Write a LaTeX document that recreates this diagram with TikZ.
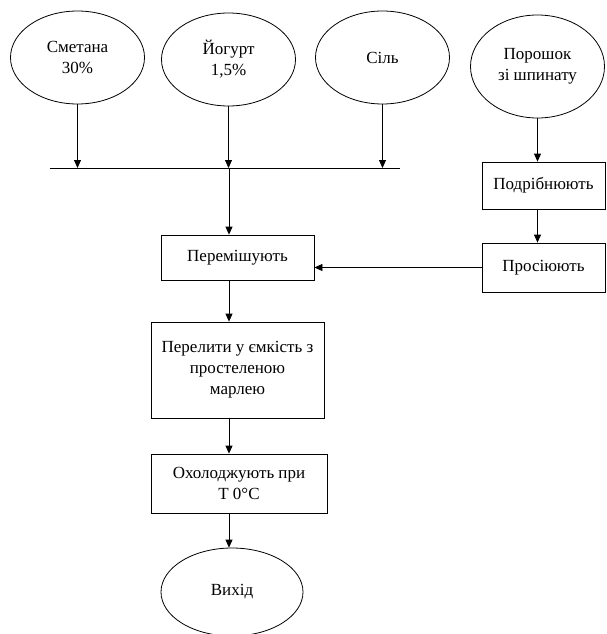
\documentclass[tikz,border=0pt]{standalone}
\usepackage{fontspec}
\setmainfont{Liberation Serif}
\usetikzlibrary{shapes.geometric, arrows.meta}
\begin{document}
\begin{tikzpicture}[x = 1pt, y = -1pt, line width = .8pt,
		every node/.style = {font = \fontsize{17}{21}\selectfont, align = center, inner sep = 0pt},
		oval/.style = {draw, ellipse, minimum width = 134pt, minimum height = 93pt},
		box/.style = {draw, rectangle},
		arr/.style = {-{Triangle[length = 8pt, width = 7pt]}}]
	\useasboundingbox (0,0) rectangle (606,634);
	\node [oval] (smetana) at (77.5,57.5) {Сметана\\30\%};
	\node [oval] (yogurt) at (228.5,59.5) {Йогурт\\1,5\%};
	\node [oval] (sil) at (382.5,57.5) {Сіль};
	\node [oval, minimum height = 103pt] (poroshok) at (537.5,66.5) {Порошок\\зі шпинату};
	\coordinate (busl) at (50,168);
	\coordinate (busr) at (400,168);
	\coordinate (bus) at (229,168);
	\draw (busl) -- (busr);
	\node [box, minimum width = 123pt, minimum height = 47pt] (grind) at (543.5,185.5) {Подрібнюють};
	\node [box, minimum width = 123pt, minimum height = 49pt] (sift) at (543.5,267.5) {Просіюють};
	\node [box, minimum width = 153pt, minimum height = 45pt] (mix) at (237.5,257.5) {Перемішують};
	\node [box, minimum width = 173pt, minimum height = 96pt] (pour) at (237.5,370) {Перелити у ємкість з\\простеленою\\марлею};
	\node [box, minimum width = 176pt, minimum height = 59pt] (cool) at (239,483.5) {Охолоджують при\\Т 0°C};
	\node [oval, minimum width = 142pt, minimum height = 88pt] (out) at (232,592) {Вихід};
	\draw [arr] (smetana.south) -- (smetana.south |- busl);
	\draw [arr] (yogurt.south) -- (yogurt.south |- busl);
	\draw [arr] (sil.south) -- (sil.south |- busr);
	\draw [arr] (bus) -- (bus |- mix.north);
	\draw [arr] (poroshok.south) -- (poroshok.south |- grind.north);
	\draw [arr] (grind.south -| poroshok.south) -- (sift.north -| poroshok.south);
	\draw [arr] (sift.west) -- (sift.west -| mix.east);
	\draw [arr] (mix.south -| bus) -- (pour.north -| bus);
	\draw [arr] (pour.south -| bus) -- (cool.north -| bus);
	\draw [arr] (cool.south -| bus) -- (out.north -| bus);
\end{tikzpicture}
\end{document}
